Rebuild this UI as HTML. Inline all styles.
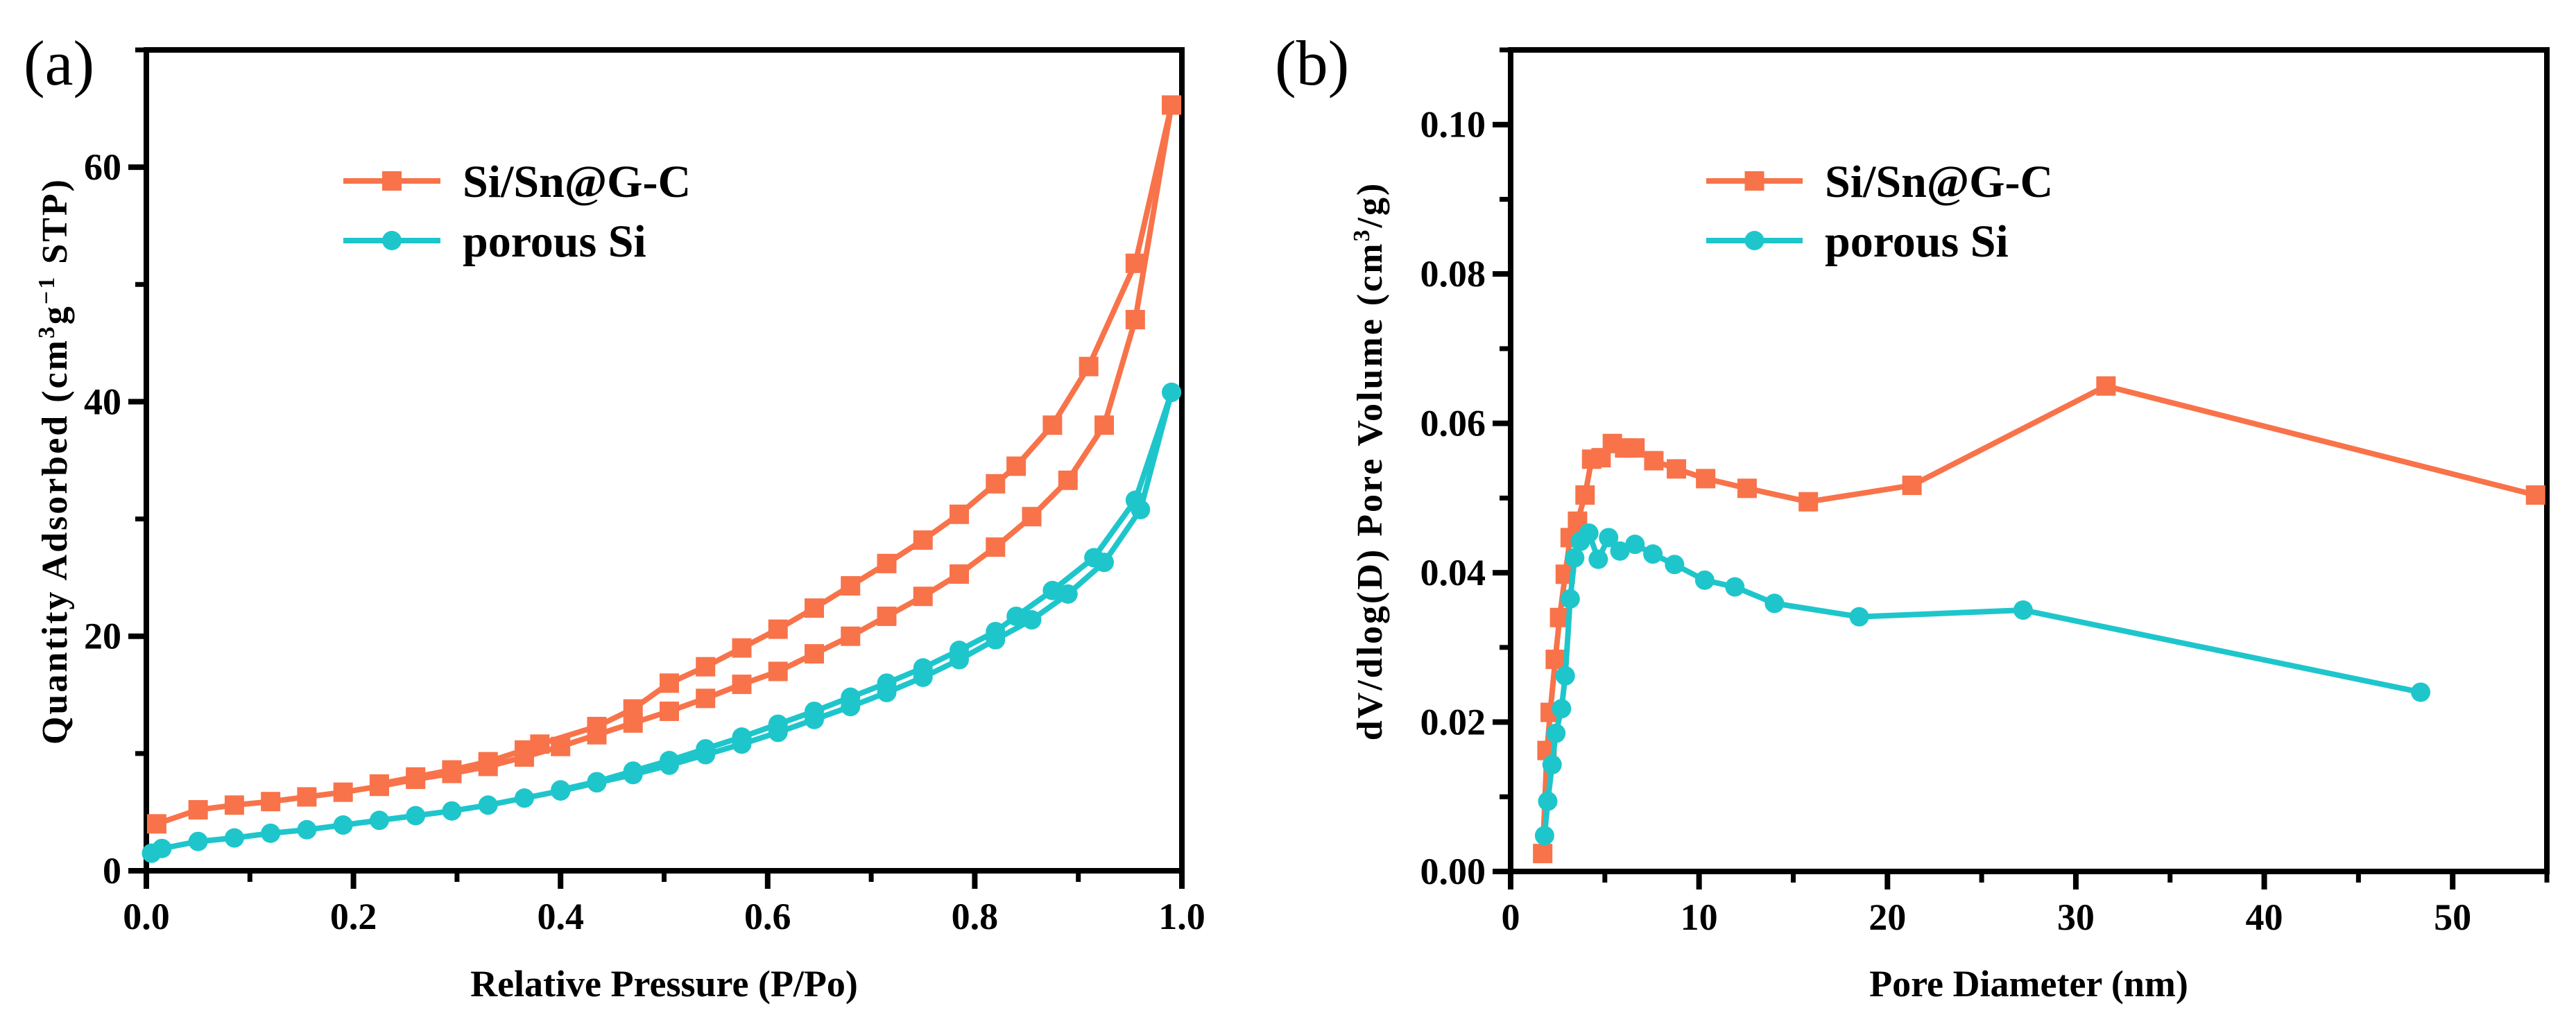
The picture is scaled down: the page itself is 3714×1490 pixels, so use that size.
<!DOCTYPE html>
<html><head><meta charset="utf-8"><style>
html,body{margin:0;padding:0;background:#fff;}
svg{display:block;font-family:"Liberation Serif",serif;}
</style></head><body>
<svg id="fig" width="3714" height="1490" viewBox="0 0 3714 1490"></svg>
<script>
// ---- Panel (a) data ----
const aOrangeAdsX=[0.01,0.05,0.085,0.12,0.155,0.19,0.225,0.26,0.295,0.33,0.365,0.40,0.435,0.47,0.505,0.54,0.575,0.61,0.645,0.68,0.715,0.75,0.785,0.82,0.855,0.89,0.925,0.955,0.99];
const aOrangeAdsY=[4.0,5.2,5.6,5.9,6.3,6.7,7.2,7.8,8.3,8.9,9.7,10.6,11.6,12.6,13.6,14.7,15.9,17.0,18.5,20.0,21.7,23.4,25.3,27.6,30.2,33.3,38.0,47.0,65.3];
const aOrangeDesX=[0.99,0.955,0.91,0.875,0.84,0.82,0.785,0.75,0.715,0.68,0.645,0.61,0.575,0.54,0.505,0.47,0.435,0.38,0.365,0.33,0.295,0.26,0.225];
const aOrangeDesY=[65.3,51.8,43.0,38.0,34.5,33.0,30.4,28.2,26.2,24.3,22.4,20.6,19.0,17.4,16.0,13.8,12.3,10.8,10.3,9.3,8.6,8.0,7.4];
const aCyanAdsX=[0.005,0.015,0.05,0.085,0.12,0.155,0.19,0.225,0.26,0.295,0.33,0.365,0.40,0.435,0.47,0.505,0.54,0.575,0.61,0.645,0.68,0.715,0.75,0.785,0.82,0.855,0.89,0.925,0.96,0.99];
const aCyanAdsY=[1.5,1.9,2.5,2.8,3.2,3.5,3.9,4.3,4.7,5.1,5.6,6.2,6.8,7.5,8.2,9.0,9.9,10.8,11.8,12.9,14.0,15.2,16.5,18.0,19.7,21.4,23.6,26.3,30.8,40.8];
const aCyanDesX=[0.99,0.955,0.915,0.875,0.84,0.82,0.785,0.75,0.715,0.68,0.645,0.61,0.575,0.54,0.505,0.47,0.435,0.40];
const aCyanDesY=[40.8,31.6,26.7,23.9,21.7,20.4,18.8,17.3,16.0,14.8,13.6,12.5,11.4,10.4,9.4,8.5,7.6,6.9];
const aXTicks=[0,0.2,0.4,0.6,0.8,1.0];
const aXTickLabels=["0.0","0.2","0.4","0.6","0.8","1.0"];
const aYTicks=[0,20,40,60];
const aYTickLabels=["0","20","40","60"];
// ---- Panel (b) data ----
const bOrangeX=[1.7,1.93,2.1,2.37,2.6,2.9,3.16,3.55,3.95,4.3,4.8,5.4,6.05,6.6,7.6,8.8,10.35,12.55,15.8,21.3,31.6,54.4];
const bOrangeY=[0.0024,0.0162,0.0213,0.0284,0.034,0.0398,0.0447,0.0469,0.0504,0.0552,0.0554,0.0573,0.0567,0.0567,0.055,0.0539,0.0526,0.0513,0.0495,0.0517,0.065,0.0504];
const bCyanX=[1.8,1.97,2.2,2.4,2.7,2.9,3.16,3.4,3.7,4.15,4.65,5.2,5.8,6.6,7.55,8.7,10.3,11.9,14.0,18.5,27.2,48.3];
const bCyanY=[0.0048,0.0094,0.0143,0.0185,0.0218,0.0262,0.0365,0.042,0.0442,0.0453,0.0418,0.0447,0.0429,0.0438,0.0425,0.0411,0.039,0.0381,0.0359,0.0341,0.035,0.024];
const bXTicks=[0,10,20,30,40,50];
const bXTickLabels=["0","10","20","30","40","50"];
const bYTicks=[0,0.02,0.04,0.06,0.08,0.10];
const bYTickLabels=["0.00","0.02","0.04","0.06","0.08","0.10"];

const OR="#F8734A", CY="#1EC6CB";
const NS="http://www.w3.org/2000/svg";
const svg=document.getElementById('fig');
function mk(tag,attrs,parent){const e=document.createElementNS(NS,tag);for(const k in attrs)e.setAttribute(k,attrs[k]);(parent||svg).appendChild(e);return e;}

function panel(cfg){
  const g=mk('g',{});
  
  
  const sx=v=>cfg.x0+(v-cfg.xmin)/(cfg.xmax-cfg.xmin)*(cfg.x1-cfg.x0);
  const sy=v=>cfg.y0-(v-cfg.ymin)/(cfg.ymax-cfg.ymin)*(cfg.y0-cfg.y1);
  for(let v=cfg.xmin;v<=cfg.xmax+1e-9;v+=cfg.xminor){const x=sx(v);const t=mk('line',{x1:x,x2:x,y1:cfg.y0,y2:cfg.y0+16,stroke:'#000','stroke-width':7},g);}
  for(let v=cfg.ymin;v<=cfg.ymax+1e-9;v+=cfg.yminor){const y=sy(v);const t=mk('line',{x1:cfg.x0,x2:cfg.x0-16,y1:y,y2:y,stroke:'#000','stroke-width':7},g);}
  cfg.xt.forEach((v,i)=>{const x=sx(v);const t=mk('line',{x1:x,x2:x,y1:cfg.y0,y2:cfg.y0+26,stroke:'#000','stroke-width':8},g);
    const l=mk('text',{x:x,y:cfg.y0+84,'text-anchor':'middle','font-size':54,'font-weight':'bold'},g);l.textContent=cfg.xl[i];});
  cfg.yt.forEach((v,i)=>{const y=sy(v);const t=mk('line',{x1:cfg.x0,x2:cfg.x0-26,y1:y,y2:y,stroke:'#000','stroke-width':8},g);
    const l=mk('text',{x:cfg.x0-36,y:y+18,'text-anchor':'end','font-size':54,'font-weight':'bold'},g);l.textContent=cfg.yl[i];});
  const fr=mk('rect',{x:cfg.x0,y:cfg.y1,width:cfg.x1-cfg.x0,height:cfg.y0-cfg.y1,fill:'none',stroke:'#000','stroke-width':8},g);
  
  cfg.series.forEach(s=>{
    const pts=s.xs.map((v,i)=>sx(v)+','+sy(s.ys[i])).join(' ');
    const pl=mk('polyline',{points:pts,fill:'none',stroke:s.color,'stroke-width':8,'stroke-linejoin':'round'},g);
    
    s.xs.forEach((v,i)=>{const x=sx(v),y=sy(s.ys[i]);let m;
      if(s.shape==='sq')m=mk('rect',{x:x-14,y:y-14,width:28,height:28,fill:s.color},g);
      else m=mk('circle',{cx:x,cy:y,r:14,fill:s.color},g);
      });
  });
  const lg=mk('g',{},g);
  [[OR,'sq','Si/Sn@G-C',261],[CY,'ci','porous Si',347]].forEach(([c,sh,txt,y])=>{
    const e=mk('g',{},lg);
    mk('line',{x1:cfg.lx0,x2:cfg.lx1,y1:y,y2:y,stroke:c,'stroke-width':8},e);
    const mx=(cfg.lx0+cfg.lx1)/2;
    if(sh==='sq')mk('rect',{x:mx-14,y:y-14,width:28,height:28,fill:c},e);else mk('circle',{cx:mx,cy:y,r:14,fill:c},e);
    const t=mk('text',{x:cfg.lx1+32,y:y+23,'font-size':66,'font-weight':'bold'},e);t.textContent=txt;
  });
  const xt=mk('text',{x:(cfg.x0+cfg.x1)/2,y:1437,'text-anchor':'middle','font-size':54,'font-weight':'bold'},g);xt.textContent=cfg.xtitle;
  const yt=mk('text',{x:0,y:0,'text-anchor':'middle','font-size':52,'font-weight':'bold','letter-spacing':3,transform:`translate(${cfg.ytx},665) rotate(-90)`},g);yt.innerHTML=cfg.ytitle;
  const pl=mk('text',{x:cfg.plx,y:122,'font-size':92},g);pl.textContent=cfg.plabel;
}

panel({name:'panel-a-isotherm',x0:211,x1:1704,y0:1256,y1:72,xmin:0,xmax:1,ymin:0,ymax:70,xminor:0.1,yminor:10,
  xt:aXTicks,xl:aXTickLabels,yt:aYTicks,yl:aYTickLabels,lx0:495,lx1:635,
  xtitle:'Relative Pressure (P/Po)',ytx:96,ytitle:'Quantity Adsorbed (cm<tspan dy="-18" font-size="34">3</tspan><tspan dy="18">g</tspan><tspan dy="-18" font-size="34">−1</tspan><tspan dy="18"> STP)</tspan>',
  plx:34,plabel:'(a)',
  series:[{name:'si-sn-gc-adsorption',xs:aOrangeAdsX,ys:aOrangeAdsY,color:OR,shape:'sq'},
          {name:'si-sn-gc-desorption',xs:aOrangeDesX,ys:aOrangeDesY,color:OR,shape:'sq'},
          {name:'porous-si-adsorption',xs:aCyanAdsX,ys:aCyanAdsY,color:CY,shape:'ci'},
          {name:'porous-si-desorption',xs:aCyanDesX,ys:aCyanDesY,color:CY,shape:'ci'}]});
panel({name:'panel-b-pore-distribution',x0:2178,x1:3672,y0:1257,y1:72,xmin:0,xmax:55,ymin:0,ymax:0.11,xminor:5,yminor:0.01,
  xt:bXTicks,xl:bXTickLabels,yt:bYTicks,yl:bYTickLabels,lx0:2460,lx1:2599,
  xtitle:'Pore Diameter (nm)',ytx:1992,ytitle:'dV/dlog(D) Pore Volume (cm<tspan dy="-18" font-size="34">3</tspan><tspan dy="18">/g)</tspan>',
  plx:1838,plabel:'(b)',
  series:[{name:'si-sn-gc',xs:bOrangeX,ys:bOrangeY,color:OR,shape:'sq'},
          {name:'porous-si',xs:bCyanX,ys:bCyanY,color:CY,shape:'ci'}]});
</script>
</body></html>
